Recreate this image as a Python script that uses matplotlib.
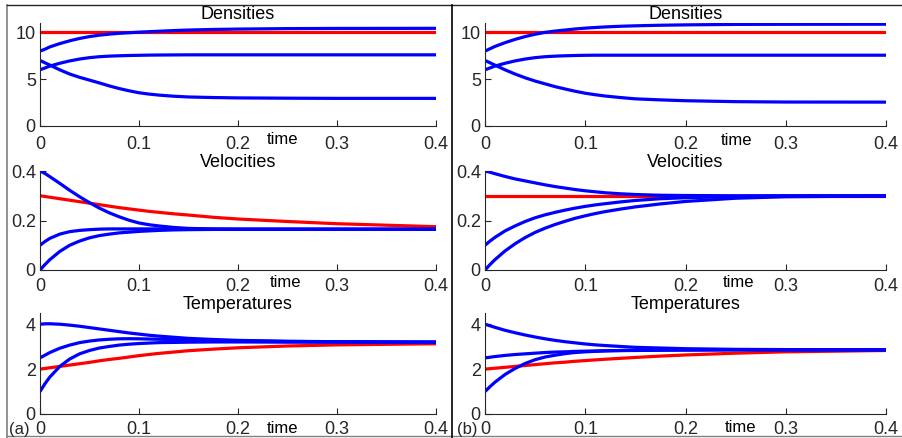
import matplotlib
matplotlib.use("Agg")
import matplotlib.pyplot as plt
from matplotlib.lines import Line2D

plt.rcParams["font.family"] = ["Liberation Sans", "DejaVu Sans"]

# shared time samples
t = [0, 0.005, 0.01, 0.02, 0.03, 0.04, 0.05, 0.06, 0.07, 0.08, 0.09,
     0.1, 0.11, 0.12, 0.135, 0.15, 0.175, 0.2, 0.25, 0.3, 0.4]

# (a) densities
rho_a_red = [10.0] * 21
rho_a_b1 = [8.0, 8.2, 8.45, 8.8, 9.1, 9.35, 9.55, 9.7, 9.81, 9.9, 9.96,
            10.02, 10.07, 10.12, 10.19, 10.25, 10.31, 10.35, 10.4, 10.42, 10.43]
rho_a_b2 = [6.0, 6.2, 6.4, 6.7, 6.95, 7.15, 7.3, 7.4, 7.46, 7.5, 7.53,
            7.55, 7.57, 7.58, 7.59, 7.6, 7.6, 7.6, 7.6, 7.6, 7.6]
rho_a_b3 = [7.0, 6.75, 6.5, 6.0, 5.55, 5.2, 4.9, 4.6, 4.28, 4.0, 3.76,
            3.55, 3.41, 3.3, 3.18, 3.1, 3.04, 3.0, 2.97, 2.95, 2.95]

# (b) densities
rho_b_red = [10.0] * 21
rho_b_b1 = [8.0, 8.25, 8.5, 8.9, 9.25, 9.55, 9.8, 10.0, 10.14, 10.25, 10.36,
            10.45, 10.52, 10.58, 10.65, 10.7, 10.76, 10.8, 10.85, 10.86, 10.87]
rho_b_b2 = [6.0, 6.2, 6.4, 6.7, 6.95, 7.15, 7.3, 7.4, 7.46, 7.5, 7.53,
            7.55, 7.56, 7.56, 7.56, 7.56, 7.56, 7.56, 7.56, 7.56, 7.56]
rho_b_b3 = [7.0, 6.75, 6.5, 6.0, 5.55, 5.15, 4.8, 4.5, 4.2, 3.95, 3.71,
            3.5, 3.34, 3.2, 3.04, 2.9, 2.79, 2.7, 2.6, 2.56, 2.55]

# (a) velocities
u_a_red = [0.3, 0.297, 0.294, 0.288, 0.282, 0.276, 0.27, 0.264, 0.258, 0.252,
           0.247, 0.242, 0.237, 0.233, 0.227, 0.222, 0.213, 0.206, 0.196,
           0.187, 0.175]
u_a_b1 = [0.4, 0.39, 0.377, 0.35, 0.322, 0.296, 0.272, 0.25, 0.231, 0.215,
          0.201, 0.19, 0.183, 0.178, 0.172, 0.168, 0.166, 0.165, 0.165,
          0.165, 0.165]
u_a_b2 = [0.1, 0.115, 0.128, 0.145, 0.155, 0.16, 0.163, 0.165, 0.166, 0.166,
          0.166, 0.166, 0.166, 0.166, 0.165, 0.165, 0.165, 0.165, 0.165,
          0.165, 0.165]
u_a_b3 = [0.0, 0.022, 0.042, 0.075, 0.1, 0.117, 0.13, 0.139, 0.145, 0.15,
          0.153, 0.156, 0.158, 0.16, 0.162, 0.163, 0.164, 0.164, 0.164,
          0.164, 0.164]

# (b) velocities
u_b_red = [0.3] * 21
u_b_b1 = [0.4, 0.395, 0.389, 0.378, 0.368, 0.36, 0.352, 0.344, 0.337, 0.331,
          0.325, 0.32, 0.316, 0.312, 0.308, 0.305, 0.302, 0.301, 0.3, 0.3, 0.3]
u_b_b2 = [0.1, 0.117, 0.132, 0.158, 0.178, 0.196, 0.211, 0.223, 0.233, 0.242,
          0.25, 0.257, 0.263, 0.268, 0.275, 0.281, 0.288, 0.292, 0.297,
          0.299, 0.3]
u_b_b3 = [0.0, 0.022, 0.042, 0.077, 0.106, 0.131, 0.152, 0.169, 0.184, 0.197,
          0.209, 0.219, 0.228, 0.236, 0.246, 0.255, 0.267, 0.277, 0.29,
          0.296, 0.299]

# (a) temperatures
T_a_red = [2.0, 2.03, 2.06, 2.12, 2.18, 2.24, 2.3, 2.37, 2.43, 2.48, 2.54,
           2.6, 2.65, 2.7, 2.76, 2.82, 2.89, 2.95, 3.03, 3.08, 3.13]
T_a_b1 = [4.0, 4.02, 4.02, 4.0, 3.96, 3.91, 3.85, 3.79, 3.73, 3.67, 3.61,
          3.56, 3.51, 3.47, 3.42, 3.37, 3.32, 3.28, 3.24, 3.22, 3.2]
T_a_b2 = [2.5, 2.62, 2.74, 2.93, 3.07, 3.18, 3.25, 3.3, 3.33, 3.35, 3.355,
          3.35, 3.34, 3.33, 3.32, 3.3, 3.28, 3.26, 3.23, 3.22, 3.2]
T_a_b3 = [1.0, 1.35, 1.65, 2.12, 2.45, 2.68, 2.83, 2.94, 3.01, 3.07, 3.11,
          3.14, 3.16, 3.18, 3.19, 3.2, 3.21, 3.21, 3.2, 3.2, 3.2]

# (b) temperatures
T_b_red = [2.0, 2.02, 2.04, 2.08, 2.12, 2.16, 2.2, 2.24, 2.28, 2.31, 2.35,
           2.38, 2.41, 2.44, 2.48, 2.52, 2.58, 2.63, 2.71, 2.77, 2.83]
T_b_b1 = [4.0, 3.93, 3.86, 3.73, 3.62, 3.52, 3.43, 3.35, 3.28, 3.22, 3.17,
          3.12, 3.08, 3.05, 3.01, 2.97, 2.94, 2.91, 2.88, 2.87, 2.86]
T_b_b2 = [2.5, 2.53, 2.56, 2.61, 2.65, 2.68, 2.71, 2.74, 2.76, 2.77, 2.79,
          2.8, 2.81, 2.82, 2.825, 2.83, 2.84, 2.85, 2.86, 2.86, 2.86]
T_b_b3 = [1.0, 1.22, 1.42, 1.76, 2.03, 2.25, 2.42, 2.54, 2.62, 2.69, 2.74,
          2.77, 2.79, 2.81, 2.83, 2.84, 2.85, 2.85, 2.86, 2.86, 2.86]

titles = ["Densities", "Velocities", "Temperatures"]
y_limits = [(0, 11), (0, 0.4), (0, 4.5)]
y_ticks = [[0, 5, 10], [0, 0.2, 0.4], [0, 2, 4]]
y_ticklabels = [["0", "5", "10"], ["0", "0.2", "0.4"], ["0", "2", "4"]]
x_ticks = [0, 0.1, 0.2, 0.3, 0.4]
x_ticklabels = ["0", "0.1", "0.2", "0.3", "0.4"]
x_pads = [7, 6, 5]

panels = {
    0: [(rho_a_red, rho_a_b1, rho_a_b2, rho_a_b3),
        (u_a_red, u_a_b1, u_a_b2, u_a_b3),
        (T_a_red, T_a_b1, T_a_b2, T_a_b3)],
    1: [(rho_b_red, rho_b_b1, rho_b_b2, rho_b_b3),
        (u_b_red, u_b_b1, u_b_b2, u_b_b3),
        (T_b_red, T_b_b1, T_b_b2, T_b_b3)],
}

fig = plt.figure(figsize=(9.02, 4.38), dpi=100)

col_x = [(40 / 902, 396 / 902), (485 / 902, 401 / 902)]
row_y = [((438 - 126) / 438, 103 / 438),
         ((438 - 270) / 438, 99 / 438),
         ((438 - 414) / 438, 101 / 438)]
# where the "time" label sits in each panel (axes fraction)
xlabel_pos = {
    0: [(0.612, -0.06), (0.621, -0.05), (0.612, -0.065)],
    1: [(0.628, -0.07), (0.631, -0.05), (0.638, -0.06)],
}
dark = "#262626"

for col in range(2):
    for row in range(3):
        x0, w = col_x[col]
        y0, h = row_y[row]
        ax = fig.add_axes([x0, y0, w, h])
        red, b1, b2, b3 = panels[col][row]
        for series in (b1, b2, b3):
            ax.plot(t, series, color="#0000ff", linewidth=2.3,
                    solid_capstyle="butt")
        ax.plot(t, red, color="#ff0000", linewidth=2.3,
                solid_capstyle="butt", zorder=1.9)
        ax.set_xlim(0, 0.4)
        ax.set_ylim(*y_limits[row])
        ax.set_xticks(x_ticks)
        ax.set_xticklabels(x_ticklabels)
        ax.set_yticks(y_ticks[row])
        ax.set_yticklabels(y_ticklabels[row])
        ax.tick_params(direction="in", length=4, width=0.8, colors=dark,
                       labelsize=13)
        ax.tick_params(axis="x", pad=x_pads[row])
        ax.tick_params(axis="y", pad=3)
        for side in ("top", "right"):
            ax.spines[side].set_visible(False)
        for side in ("left", "bottom"):
            ax.spines[side].set_color(dark)
            ax.spines[side].set_linewidth(0.8)
        ax.set_title(titles[row], fontsize=13, pad=1)
        ax.set_xlabel("time", fontsize=12)
        ax.xaxis.set_label_coords(*xlabel_pos[col][row])

# panel frames
frame_grey = "#808080"
fig.add_artist(Line2D([7 / 902, 7 / 902], [0, 433 / 438],
                      color=frame_grey, linewidth=1.2))
fig.add_artist(Line2D([7 / 902, 1], [433 / 438, 433 / 438],
                      color=dark, linewidth=1.0))
fig.add_artist(Line2D([7 / 902, 1], [2 / 438, 2 / 438],
                      color=frame_grey, linewidth=1.0))
fig.add_artist(Line2D([452 / 902, 452 / 902], [0, 433 / 438],
                      color="black", linewidth=1.2))

fig.text(9 / 902, 4 / 438, "(a)", fontsize=12, color=dark)
fig.text(457 / 902, 4 / 438, "(b)", fontsize=12, color=dark)

fig.savefig("out.png", dpi=100)
